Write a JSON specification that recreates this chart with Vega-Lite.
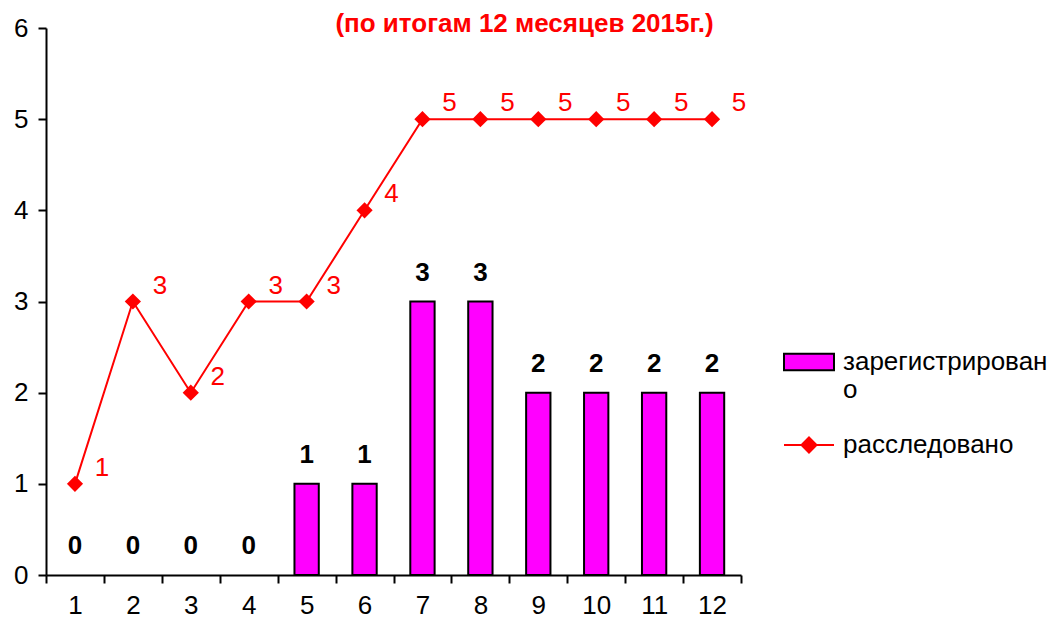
{
  "$schema": "https://vega.github.io/schema/vega-lite/v6.json",
  "width": 695,
  "height": 547,
  "autosize": {"type": "none"},
  "padding": {"left": 46, "top": 28, "right": 315, "bottom": 46},
  "background": "white",
  "config": {
    "font": "Liberation Sans",
    "view": {"stroke": null},
    "axis": {"grid": false, "domainColor": "black", "domainWidth": 2, "tickColor": "black", "tickWidth": 2, "tickSize": 8, "labelFont": "Liberation Sans", "labelFontSize": 26, "labelColor": "black", "titleFontSize": 0}
  },
  "title": {
    "text": "(по итогам 12 месяцев 2015г.)",
    "color": "#FF0000",
    "fontSize": 26,
    "fontWeight": "bold",
    "font": "Liberation Sans",
    "anchor": "middle",
    "frame": "group",
    "dx": 131,
    "offset": -22
  },
  "data": {
    "values": [
      {"month": 1, "reg": 0, "inv": 1},
      {"month": 2, "reg": 0, "inv": 3},
      {"month": 3, "reg": 0, "inv": 2},
      {"month": 4, "reg": 0, "inv": 3},
      {"month": 5, "reg": 1, "inv": 3},
      {"month": 6, "reg": 1, "inv": 4},
      {"month": 7, "reg": 3, "inv": 5},
      {"month": 8, "reg": 3, "inv": 5},
      {"month": 9, "reg": 2, "inv": 5},
      {"month": 10, "reg": 2, "inv": 5},
      {"month": 11, "reg": 2, "inv": 5},
      {"month": 12, "reg": 2, "inv": 5}
    ]
  },
  "encoding": {
    "x": {
      "field": "month",
      "type": "ordinal",
      "scale": {"paddingInner": 0, "paddingOuter": 0},
      "axis": {"title": null, "labelAngle": 0, "tickBand": "extent", "labelPadding": 9, "labelBaseline": "top"}
    }
  },
  "layer": [
    {
      "transform": [{"filter": "datum.reg > 0"}],
      "mark": {"type": "bar", "width": {"band": 0.42}, "stroke": "black", "strokeWidth": 2},
      "encoding": {
        "y": {"field": "reg", "type": "quantitative", "scale": {"domain": [0, 6]}, "axis": {"title": null, "values": [0, 1, 2, 3, 4, 5, 6], "format": "d", "labelPadding": 10}},
        "fill": {
          "datum": "зарегистрировано",
          "type": "nominal",
          "scale": {"domain": ["зарегистрировано"], "range": ["#FF00FF"]},
          "legend": {
            "title": null,
            "orient": "none",
            "legendX": 737,
            "legendY": 308,
            "symbolType": "M-1,-0.33H1V0.33H-1Z",
            "symbolSize": 2500,
            "symbolStrokeColor": "black",
            "symbolStrokeWidth": 2,
            "labelFontSize": 26,
            "labelFont": "Liberation Sans",
            "labelColor": "black",
            "labelLimit": 300,
            "labelOffset": 8,
            "labelExpr": "['зарегистрирован', 'о']"
          }
        }
      }
    },
    {
      "mark": {"type": "text", "fontWeight": "bold", "fontSize": 26, "color": "black", "baseline": "middle", "dy": -29},
      "encoding": {
        "y": {"field": "reg", "type": "quantitative"},
        "text": {"field": "reg", "type": "quantitative"}
      }
    },
    {
      "mark": {"type": "line", "color": "#FF0000", "strokeWidth": 2, "point": {"shape": "diamond", "size": 180, "filled": true, "color": "#FF0000"}},
      "encoding": {
        "y": {"field": "inv", "type": "quantitative"},
        "stroke": {
          "datum": "расследовано",
          "type": "nominal",
          "scale": {"domain": ["расследовано"], "range": ["#FF0000"]},
          "legend": {
            "title": null,
            "orient": "none",
            "legendX": 737,
            "legendY": 391,
            "symbolType": "M-1,0H1M0,-0.3L0.3,0L0,0.3L-0.3,0Z",
            "symbolSize": 2500,
            "symbolFillColor": "#FF0000",
            "symbolStrokeColor": "#FF0000",
            "symbolStrokeWidth": 2,
            "labelFontSize": 26,
            "labelFont": "Liberation Sans",
            "labelColor": "black",
            "labelLimit": 300,
            "labelOffset": 8
          }
        }
      }
    },
    {
      "mark": {"type": "text", "fontSize": 26, "color": "#FF0000", "align": "center", "baseline": "middle", "dx": 27, "dy": -16},
      "encoding": {
        "y": {"field": "inv", "type": "quantitative"},
        "text": {"field": "inv", "type": "quantitative"}
      }
    }
  ]
}
